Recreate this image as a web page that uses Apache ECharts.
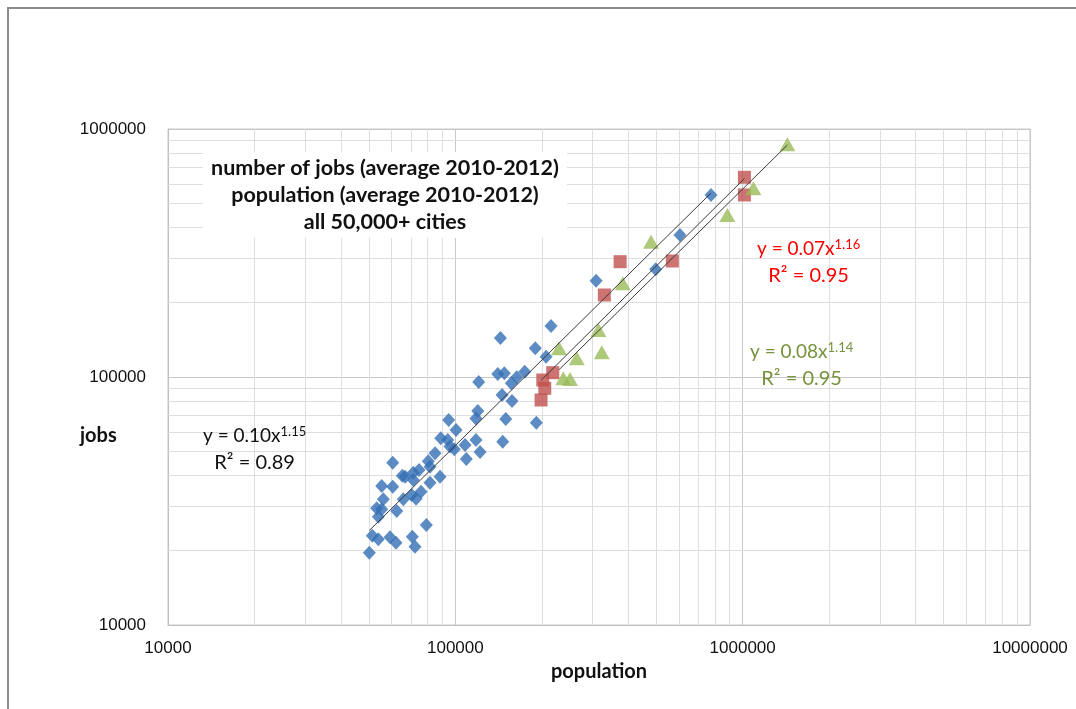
<!DOCTYPE html>
<html>
<head>
<meta charset="utf-8">
<script src="https://cdn.jsdelivr.net/npm/echarts@6/dist/echarts.min.js"></script>
<style>
  html, body { margin: 0; padding: 0; background: #fff; }
  #main { width: 1076px; height: 709px; }
</style>
</head>
<body>
<div id="main"></div>
<script>
// population / jobs per city
var bluePop = [776000, 605000, 498000, 309000, 215300, 143500, 189800, 206900, 140500, 148100,
  174400, 163600, 156600, 120600, 145400, 157500, 119700, 118000, 149800, 94800,
  191400, 100600, 88970, 94100, 118000, 146200, 95800, 108100, 99200, 121900,
  85000, 109200, 60550, 80540, 81640, 74760, 71410, 65400, 66840, 88460,
  71410, 81640, 55430, 60550, 75960, 70500, 56150, 65920, 72980, 53250,
  55430, 62520, 53950, 79270, 51400, 53950, 59260, 62170, 70850, 72390, 50200];
var blueJobs = [542000, 373700, 271800, 244500, 160600, 143700, 130500, 120700, 102800, 103500,
  105000, 99700, 94300, 95500, 84600, 80000, 72900, 68100, 67700, 67100,
  65400, 61100, 56600, 55700, 55700, 54800, 52400, 53200, 51100, 49840,
  49230, 46700, 45120, 45710, 43480, 42170, 41130, 39990, 39630, 39630,
  38430, 37480, 36350, 36120, 34480, 33440, 32130, 32130, 32300, 29550,
  29270, 28820, 27330, 25310, 22910, 22160, 22570, 21470, 22700, 20700, 19570];

var redPop = [1014000, 1014000, 374500, 569200, 330100, 218300, 201500, 204800, 198800];
var redJobs = [638700, 542000, 291700, 293600, 214100, 104100, 97250, 90050, 80770];

var greenPop = [1431000, 1090000, 884600, 479900, 382600, 314700, 229600, 264600, 323300, 237600, 250700];
var greenJobs = [867700, 576800, 450100, 351300, 238700, 154700, 130500, 119000, 125800, 98800, 98150];

var titleLines = ['number of jobs (average 2010-2012)', 'population (average 2010-2012)', 'all 50,000+ cities'];
var blueEq = ['0.10', '1.15', '0.89'];
var redEq = ['0.07', '1.16', '0.95'];
var greenEq = ['0.08', '1.14', '0.95'];

var xTicks = [10000, 100000, 1000000, 10000000];
var yTicks = [10000, 100000, 1000000];

function pairs (xs, ys) {
  return xs.map(function (x, i) { return [x, ys[i]]; });
}

// power trendline (least squares in log-log), drawn between min and max x
function powerFit (xs, ys) {
  var n = xs.length, sx = 0, sy = 0, sxx = 0, sxy = 0;
  for (var i = 0; i < n; i++) {
    var lx = Math.log(xs[i]), ly = Math.log(ys[i]);
    sx += lx; sy += ly; sxx += lx * lx; sxy += lx * ly;
  }
  var b = (n * sxy - sx * sy) / (n * sxx - sx * sx);
  var a = Math.exp((sy - b * sx) / n);
  var x0 = Math.min.apply(null, xs), x1 = Math.max.apply(null, xs);
  return [[x0, a * Math.pow(x0, b)], [x1, a * Math.pow(x1, b)]];
}

// minor grid values 2..9 of each decade
var xMinor = [], yMinor = [];
for (var d = 10000; d < 10000000; d *= 10) {
  for (var k = 2; k <= 9; k++) {
    xMinor.push({ xAxis: k * d });
    if (d < 1000000) yMinor.push({ yAxis: k * d });
  }
}

var font = 'Lato';
var tickFont = 'Liberation Sans';

function eqText (x, y, eq, color) {
  return {
    type: 'group',
    left: x, top: y, z: 100,
    children: [
      {
        type: 'text', z: 100,
        style: {
          text: '{n|y = ' + eq[0] + 'x}{s|' + eq[1] + '}',
          x: 0, y: 0, align: 'center',
          rich: {
            n: { fontSize: 19, fontFamily: font, fill: color, color: color },
            s: { fontSize: 13, fontFamily: font, fill: color, color: color, verticalAlign: 'top', padding: [0, 0, 8, 0] }
          }
        }
      },
      {
        type: 'text', z: 100,
        style: {
          text: 'R² = ' + eq[2],
          x: 0, y: 28, align: 'center',
          fontSize: 20, fontFamily: font, fill: color
        }
      }
    ]
  };
}

var myChart = echarts.init(document.getElementById('main'));

var option = {
  backgroundColor: '#fff',
  animation: false,
  grid: {
    left: 168, right: 46, top: 129, bottom: 84,
    show: true, borderColor: '#c8c8c8', borderWidth: 1
  },
  xAxis: {
    type: 'log', logBase: 10, min: xTicks[0], max: xTicks[xTicks.length - 1],
    name: 'population', nameLocation: 'middle', nameGap: 33,
    nameTextStyle: { fontFamily: font, fontWeight: 'bold', fontSize: 20, color: '#111' },
    axisLine: { lineStyle: { color: '#c0c0c0' } },
    axisTick: { show: false },
    axisLabel: { fontFamily: tickFont, fontSize: 17, color: '#111', margin: 15, formatter: function (v) { return String(v); } },
    splitLine: { lineStyle: { color: '#c8c8c8' } }
  },
  yAxis: {
    type: 'log', logBase: 10, min: yTicks[0], max: yTicks[yTicks.length - 1],
    axisLine: { show: true, lineStyle: { color: '#c0c0c0' } },
    axisTick: { show: false },
    axisLabel: { fontFamily: tickFont, fontSize: 17, color: '#111', margin: 22, formatter: function (v) { return String(v); } },
    splitLine: { lineStyle: { color: '#c8c8c8' } }
  },
  graphic: [
    {
      type: 'rect', left: 7, top: 7, z: -10,
      shape: { width: 1200, height: 900 },
      style: { fill: '#fff', stroke: '#8a8a8a', lineWidth: 2 }
    },
    {
      type: 'group', left: 203, top: 152, z: 100,
      children: [
        { type: 'rect', z: 90, shape: { x: 0, y: 0, width: 364, height: 86 }, style: { fill: '#fff' } },
        {
          type: 'text', z: 100,
          style: {
            text: titleLines.join('\n'), x: 182, y: 3, align: 'center', lineHeight: 27,
            fontSize: 21.5, fontWeight: 'bold', fontFamily: font, fill: '#111'
          }
        }
      ]
    },
    {
      type: 'text', left: 80, top: 426, z: 100,
      style: { text: 'jobs', fontSize: 20, fontWeight: 'bold', fontFamily: font, fill: '#111' }
    },
    eqText(203, 425, blueEq, '#111'),
    eqText(757, 238, redEq, '#ff0000'),
    eqText(750, 341, greenEq, '#77933c')
  ],
  series: [
    {
      type: 'line', data: [], silent: true, z: 1,
      markLine: {
        silent: true, symbol: 'none', label: { show: false }, z: 1,
        lineStyle: { color: '#dedede', type: 'solid', width: 1 },
        data: xMinor.concat(yMinor)
      }
    },
    {
      name: 'blue', type: 'scatter', symbol: 'diamond', symbolSize: [13, 14],
      itemStyle: { color: '#336fb4' }, data: pairs(bluePop, blueJobs)
    },
    {
      name: 'red', type: 'scatter', symbol: 'rect', symbolSize: 13,
      itemStyle: { color: '#c0504d' }, data: pairs(redPop, redJobs)
    },
    {
      name: 'green', type: 'scatter', symbol: 'triangle', symbolSize: [16, 14],
      itemStyle: { color: '#9bbb59' }, data: pairs(greenPop, greenJobs)
    },
    {
      type: 'line', symbol: 'none', z: 10, silent: true,
      lineStyle: { color: '#3a3a3a', width: 1 }, data: powerFit(bluePop, blueJobs)
    },
    {
      type: 'line', symbol: 'none', z: 10, silent: true,
      lineStyle: { color: '#3a3a3a', width: 1 }, data: powerFit(redPop, redJobs)
    },
    {
      type: 'line', symbol: 'none', z: 10, silent: true,
      lineStyle: { color: '#3a3a3a', width: 1 }, data: powerFit(greenPop, greenJobs)
    }
  ]
};

myChart.setOption(option);
</script>
</body>
</html>
